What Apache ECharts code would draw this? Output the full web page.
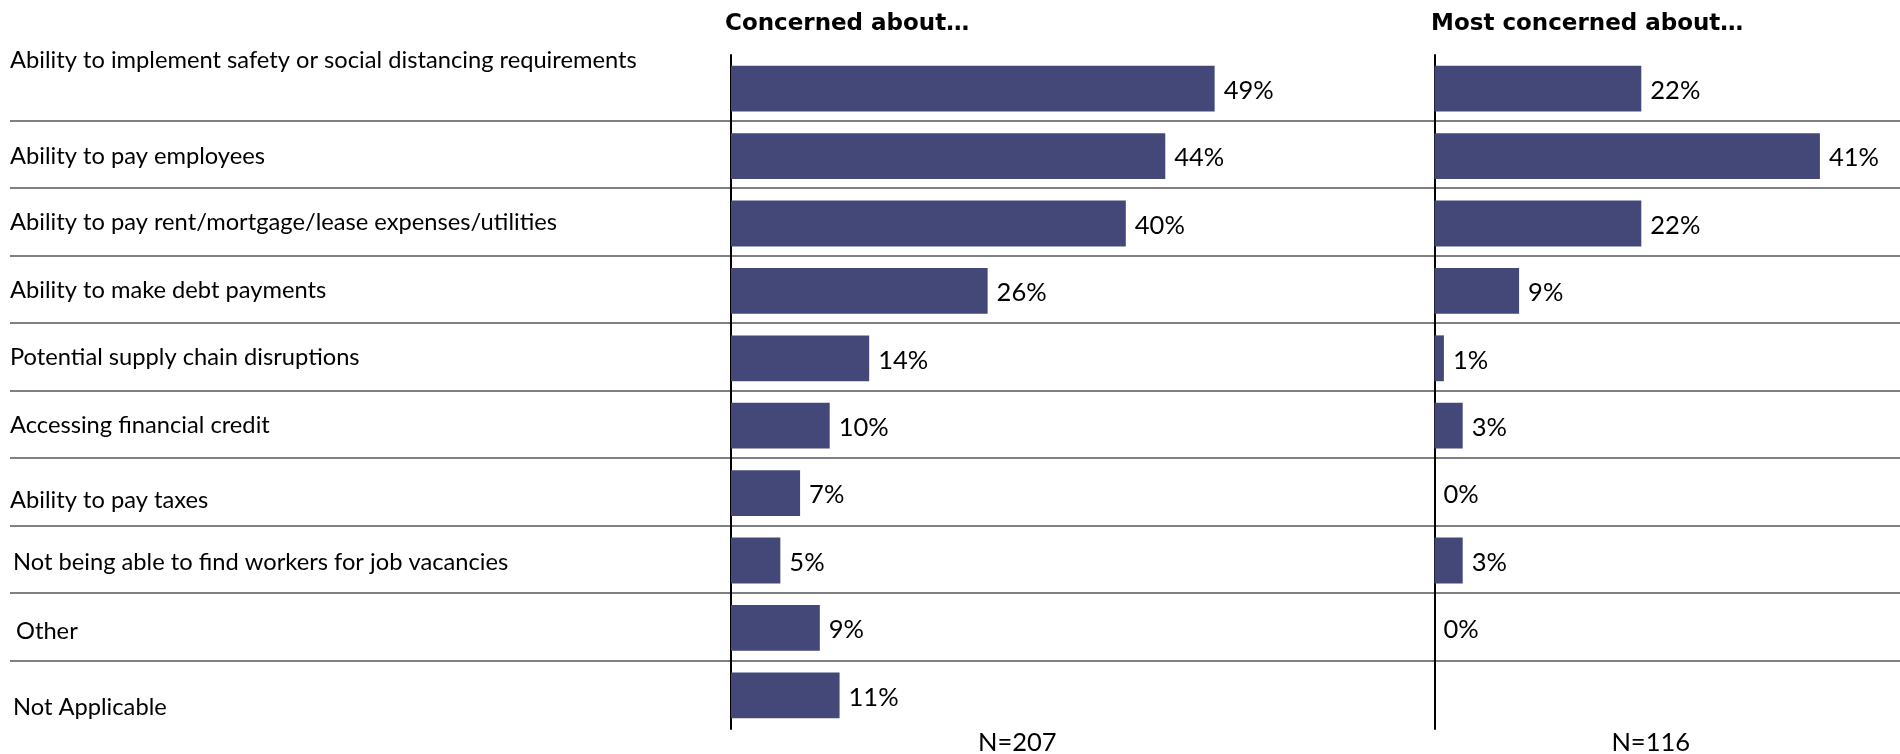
<!DOCTYPE html>
<html>
<head>
<meta charset="utf-8">
<title>Business concerns</title>
<script src="https://cdn.jsdelivr.net/npm/echarts@6/dist/echarts.min.js"></script>
<style>
  html, body { margin: 0; padding: 0; background: #fff; }
  #chart { width: 1900px; height: 754px; }
</style>
</head>
<body>
<div id="chart"></div>
<script>
// ---- data ----
const categories = [
  'Ability to implement safety or social distancing requirements',
  'Ability to pay employees',
  'Ability to pay rent/mortgage/lease expenses/utilities',
  'Ability to make debt payments',
  'Potential supply chain disruptions',
  'Accessing financial credit',
  'Ability to pay taxes',
  'Not being able to find workers for job vacancies',
  'Other',
  'Not Applicable'
];
const concernedAbout = [49, 44, 40, 26, 14, 10, 7, 5, 9, 11];
const mostConcernedAbout = [22, 41, 22, 9, 1, 3, 0, 3, 0, '-'];
const panelTitles = ['Concerned about\u2026', 'Most concerned about\u2026'];
const sampleSizes = ['N=207', 'N=116'];

// ---- layout ----
const FONT = 'Lato, "Noto Sans", sans-serif';
const HEAD_FONT = '"DejaVu Sans", Lato, sans-serif';
const BAR_COLOR = '#444878';
const RULE_COLOR = '#808080';
const TOP = 53, ROWS_H = 675;
const LEFT_X = 731, LEFT_MAX = 58, LEFT_PX = 9.87;
const RIGHT_X = 1434.5, RIGHT_MAX = 46, RIGHT_PX = 9.4;
const CAT_SIZE = 23.7, VALUE_SIZE = 25.5;

// per-row label nudges [dx, dy] in px
const labelNudge = [[0, -26], [0, 2], [0, 1], [0, 1], [0, 1], [0, 1], [0, 9], [3, 3], [6, 5], [3, 13]];
const rich = {};
labelNudge.forEach(([dx, dy], i) => {
  rich['r' + i] = {
    fontSize: CAT_SIZE,
    fontFamily: FONT,
    color: '#000',
    padding: [dy > 0 ? 2 * dy : 0, 0, dy < 0 ? -2 * dy : 0, dx]
  };
});

const hiddenValueAxis = (grid, max, name) => ({
  gridIndex: grid,
  type: 'value',
  min: 0,
  max: max,
  axisLine: { show: false },
  axisTick: { show: false },
  axisLabel: { show: false },
  splitLine: { show: false },
  name: name,
  nameLocation: 'middle',
  nameGap: 1,
  nameTextStyle: { fontSize: VALUE_SIZE, color: '#000', fontFamily: FONT }
});

const barAxis = (grid) => ({
  gridIndex: grid,
  type: 'category',
  data: categories,
  inverse: true,
  axisLine: { show: true, lineStyle: { color: '#000', width: 2 } },
  axisTick: { show: false },
  axisLabel: { show: false },
  splitLine: { show: false }
});

const barSeries = (idx, data) => ({
  type: 'bar',
  xAxisIndex: idx,
  yAxisIndex: idx,
  data: data,
  barCategoryGap: '32%',
  itemStyle: { color: BAR_COLOR },
  label: {
    show: true,
    position: 'right',
    distance: 9,
    offset: [0, 2],
    formatter: '{c}%',
    fontSize: VALUE_SIZE,
    fontFamily: FONT,
    color: '#000'
  }
});

const headStyle = { fontSize: 23, fontWeight: 'bold', color: '#000', fontFamily: HEAD_FONT };

const chart = echarts.init(document.getElementById('chart'), null, { renderer: 'canvas' });
chart.setOption({
  animation: false,
  backgroundColor: '#fff',
  textStyle: { fontFamily: FONT },
  title: [
    { text: panelTitles[0], left: 725, top: 13, padding: 0, textStyle: headStyle },
    { text: panelTitles[1], left: 1431, top: 13, padding: 0, textStyle: headStyle }
  ],
  grid: [
    { left: 10, right: 0, top: TOP, height: ROWS_H, containLabel: false, outerBoundsMode: 'none' },
    { left: LEFT_X, top: TOP + 2, height: ROWS_H - 1, width: LEFT_MAX * LEFT_PX,
      containLabel: false, outerBoundsMode: 'none' },
    { left: RIGHT_X, top: TOP + 2, height: ROWS_H - 1, width: RIGHT_MAX * RIGHT_PX,
      containLabel: false, outerBoundsMode: 'none' }
  ],
  xAxis: [
    { gridIndex: 0, type: 'value', min: 0, max: 1, show: false },
    hiddenValueAxis(1, LEFT_MAX, sampleSizes[0]),
    hiddenValueAxis(2, RIGHT_MAX, sampleSizes[1])
  ],
  yAxis: [
    {
      gridIndex: 0,
      type: 'category',
      data: categories,
      inverse: true,
      axisLine: { show: false },
      axisTick: { show: false },
      splitLine: {
        show: true,
        showMinLine: false,
        showMaxLine: false,
        lineStyle: { color: RULE_COLOR, width: 2 }
      },
      axisLabel: {
        inside: true,
        margin: 0,
        align: 'left',
        interval: 0,
        formatter: (v, i) => '{r' + i + '|' + v + '}',
        rich: rich
      }
    },
    barAxis(1),
    barAxis(2)
  ],
  series: [
    barSeries(1, concernedAbout),
    barSeries(2, mostConcernedAbout)
  ]
});
</script>
</body>
</html>
